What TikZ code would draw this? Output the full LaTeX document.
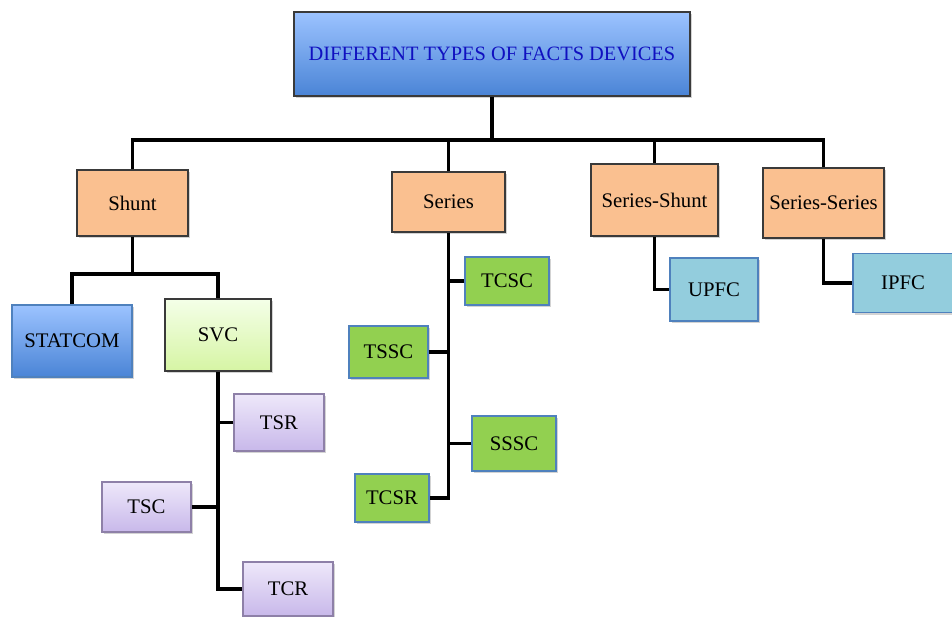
\documentclass[tikz,border=0pt]{standalone}
\usepackage{fontspec}
\setmainfont{Liberation Serif}
\usetikzlibrary{shadows}
\definecolor{titletop}{HTML}{9CC3FF}
\definecolor{titlebot}{HTML}{4A84D6}
\definecolor{titletext}{HTML}{1010C0}
\definecolor{orangefill}{HTML}{FAC090}
\definecolor{greenfill}{HTML}{92D050}
\definecolor{cyanfill}{HTML}{93CDDD}
\definecolor{bluebord}{HTML}{4F81BD}
\definecolor{purptop}{HTML}{EEE8FA}
\definecolor{purpbot}{HTML}{C8B8EA}
\definecolor{purpbord}{HTML}{8E80A8}
\definecolor{svctop}{HTML}{F4FFE8}
\definecolor{svcbot}{HTML}{D6F5A4}
\definecolor{darkbord}{HTML}{3A3A3A}
\tikzset{
  basebox/.style={rectangle, inner sep=0pt, font=\fontsize{11.8}{14}\selectfont, text=black,
    drop shadow={shadow xshift=1.2pt, shadow yshift=-1.2pt, opacity=0.35, fill=gray}},
  titlebox/.style={basebox, draw=darkbord, line width=0.7pt, top color=titletop, bottom color=titlebot,
    text=titletext, font=\fontsize{11.6}{14}\selectfont},
  catbox/.style={basebox, draw=darkbord, line width=0.7pt, fill=orangefill},
  greenbox/.style={basebox, draw=bluebord, line width=0.6pt, fill=greenfill},
  cyanbox/.style={basebox, draw=bluebord, line width=0.6pt, fill=cyanfill},
  statbox/.style={basebox, draw=bluebord, line width=0.6pt, top color=titletop, bottom color=titlebot},
  svcbox/.style={basebox, draw=darkbord, line width=0.6pt, top color=svctop, bottom color=svcbot},
  purpbox/.style={basebox, draw=purpbord, line width=0.6pt, top color=purptop, bottom color=purpbot},
  conn/.style={line width=1.8pt, line join=miter}
}
\begin{document}
\begin{tikzpicture}[x=0.02cm, y=-0.02cm]
\useasboundingbox (0,0) rectangle (952,616);
\def\u{0.02cm}
% title
\node[titlebox, minimum width=396*\u, minimum height=84*\u] (title) at (492,54) {DIFFERENT TYPES OF FACTS DEVICES};
% categories
\node[catbox, minimum width=111*\u, minimum height=66*\u] (shunt) at (132.5,203) {Shunt};
\node[catbox, minimum width=113*\u, minimum height=60*\u] (series) at (448.5,202) {Series};
\node[catbox, minimum width=127*\u, minimum height=72*\u] (sershunt) at (654.5,200) {Series-Shunt};
\node[catbox, minimum width=121*\u, minimum height=70*\u] (serser) at (823.5,203) {Series-Series};
% shunt branch
\node[statbox, minimum width=120*\u, minimum height=72*\u] (statcom) at (72,341) {STATCOM};
\node[svcbox, minimum width=106*\u, minimum height=72*\u] (svc) at (218,335) {SVC};
\node[purpbox, minimum width=90*\u, minimum height=57*\u] (tsr) at (279,422.5) {TSR};
\node[purpbox, minimum width=89*\u, minimum height=50*\u] (tsc) at (146.5,507) {TSC};
\node[purpbox, minimum width=90*\u, minimum height=54*\u] (tcr) at (288,589) {TCR};
% series branch
\node[greenbox, minimum width=84*\u, minimum height=48*\u] (tcsc) at (507,281) {TCSC};
\node[greenbox, minimum width=79*\u, minimum height=52*\u] (tssc) at (388.5,352) {TSSC};
\node[greenbox, minimum width=84*\u, minimum height=55*\u] (sssc) at (514,443.5) {SSSC};
\node[greenbox, minimum width=74*\u, minimum height=48*\u] (tcsr) at (392,498) {TCSR};
% others
\node[cyanbox, minimum width=88*\u, minimum height=63*\u] (upfc) at (714,289.5) {UPFC};
\node[cyanbox, minimum width=100*\u, minimum height=59*\u] (ipfc) at (903,283) {IPFC};
% connectors
\coordinate (bar) at (492,140);
\coordinate (sj) at (132,274);
\draw[conn] (title.south) -- (title.south |- bar);
\draw[conn] (shunt.north) -- (shunt.north |- bar) -- (serser.north |- bar) -- (serser.north);
\draw[conn] (series.north) -- (series.north |- bar);
\draw[conn] (sershunt.north) -- (sershunt.north |- bar);
\draw[conn] (shunt.south) -- (shunt.south |- sj);
\draw[conn] (statcom.north) -- (statcom.north |- sj) -- (svc.north |- sj) -- (svc.north);
\draw[conn] (svc.south) -- (svc.south |- tcr.west) -- (tcr.west);
\draw[conn] (tsr.west) -- (tsr.west -| svc.south);
\draw[conn] (tsc.east) -- (tsc.east -| svc.south);
\draw[conn] (series.south) -- (series.south |- tcsr.east) -- (tcsr.east);
\draw[conn] (tcsc.west) -- (tcsc.west -| series.south);
\draw[conn] (tssc.east) -- (tssc.east -| series.south);
\draw[conn] (sssc.west) -- (sssc.west -| series.south);
\draw[conn] (sershunt.south) |- (upfc.west);
\draw[conn] (serser.south) |- (ipfc.west);
\end{tikzpicture}
\end{document}
